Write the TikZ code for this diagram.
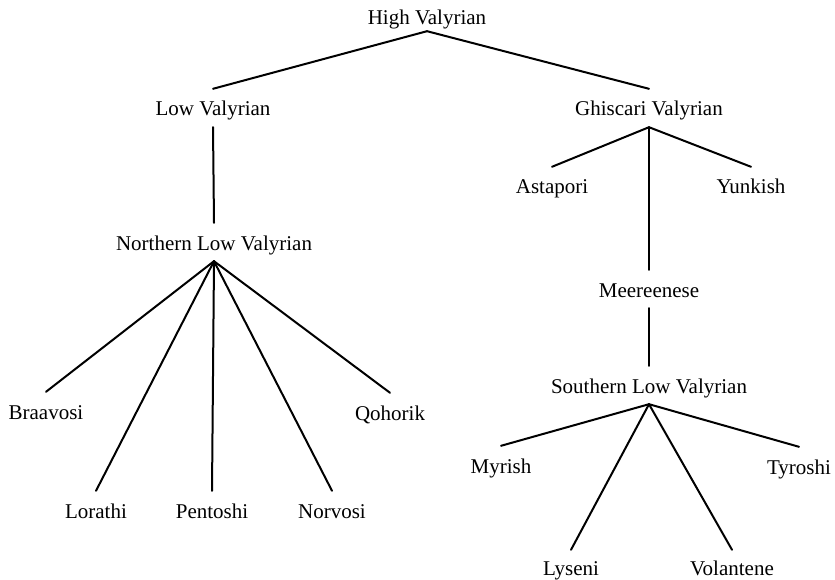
\documentclass[tikz,border=0pt]{standalone}
\usepackage{fontspec}
\setmainfont{Liberation Serif}
\begin{document}
\begin{tikzpicture}[x=1pt,y=-1pt,
  lang/.style={inner sep=0pt, minimum height=38pt, text height=18pt, text depth=2pt,
               font=\fontsize{21}{25}\selectfont},
  rootlang/.style={lang, minimum height=28pt},
  lowlang/.style={lang, minimum height=34pt},
  branch/.style={line width=2pt, line cap=round, line join=round}]
\useasboundingbox (0,0) rectangle (835,580);

\node[rootlang] (HV)  at (427,17)  {High Valyrian};
\node[lang] (LV)  at (213,108) {Low Valyrian};
\node[lang] (GV)  at (649,108) {Ghiscari Valyrian};
\node[lang] (NLV) at (214,242) {Northern Low Valyrian};
\node[lang] (Ast) at (552,186) {Astapori};
\node[lang] (Yun) at (751,186) {Yunkish};
\node[lang] (Mee) at (649,289) {Meereenese};
\node[lang] (SLV) at (649,385) {Southern Low Valyrian};
\node[lang] (Bra) at (46,411)  {Braavosi};
\node[lang] (Qoh) at (390,412) {Qohorik};
\node[lang] (Lor) at (96,510)  {Lorathi};
\node[lang] (Pen) at (212,510) {Pentoshi};
\node[lang] (Nor) at (332,510) {Norvosi};
\node[lang] (Myr) at (501,465) {Myrish};
\node[lang] (Tyr) at (799,466) {Tyroshi};
\node[lowlang] (Lys) at (571,567) {Lyseni};
\node[lowlang] (Vol) at (732,567) {Volantene};

\draw[branch] (HV.south) -- (LV.north);
\draw[branch] (HV.south) -- (GV.north);
\draw[branch] (LV.south) -- (NLV.north);
\draw[branch] (GV.south) -- (Ast.north);
\draw[branch] (GV.south) -- (Yun.north);
\draw[branch] (GV.south) -- (Mee.north);
\draw[branch] (Mee.south) -- (SLV.north);
\draw[branch] (NLV.south) -- (Bra.north);
\draw[branch] (NLV.south) -- (Lor.north);
\draw[branch] (NLV.south) -- (Pen.north);
\draw[branch] (NLV.south) -- (Nor.north);
\draw[branch] (NLV.south) -- (Qoh.north);
\draw[branch] (SLV.south) -- (Myr.north);
\draw[branch] (SLV.south) -- (Lys.north);
\draw[branch] (SLV.south) -- (Vol.north);
\draw[branch] (SLV.south) -- (Tyr.north);
\end{tikzpicture}
\end{document}
